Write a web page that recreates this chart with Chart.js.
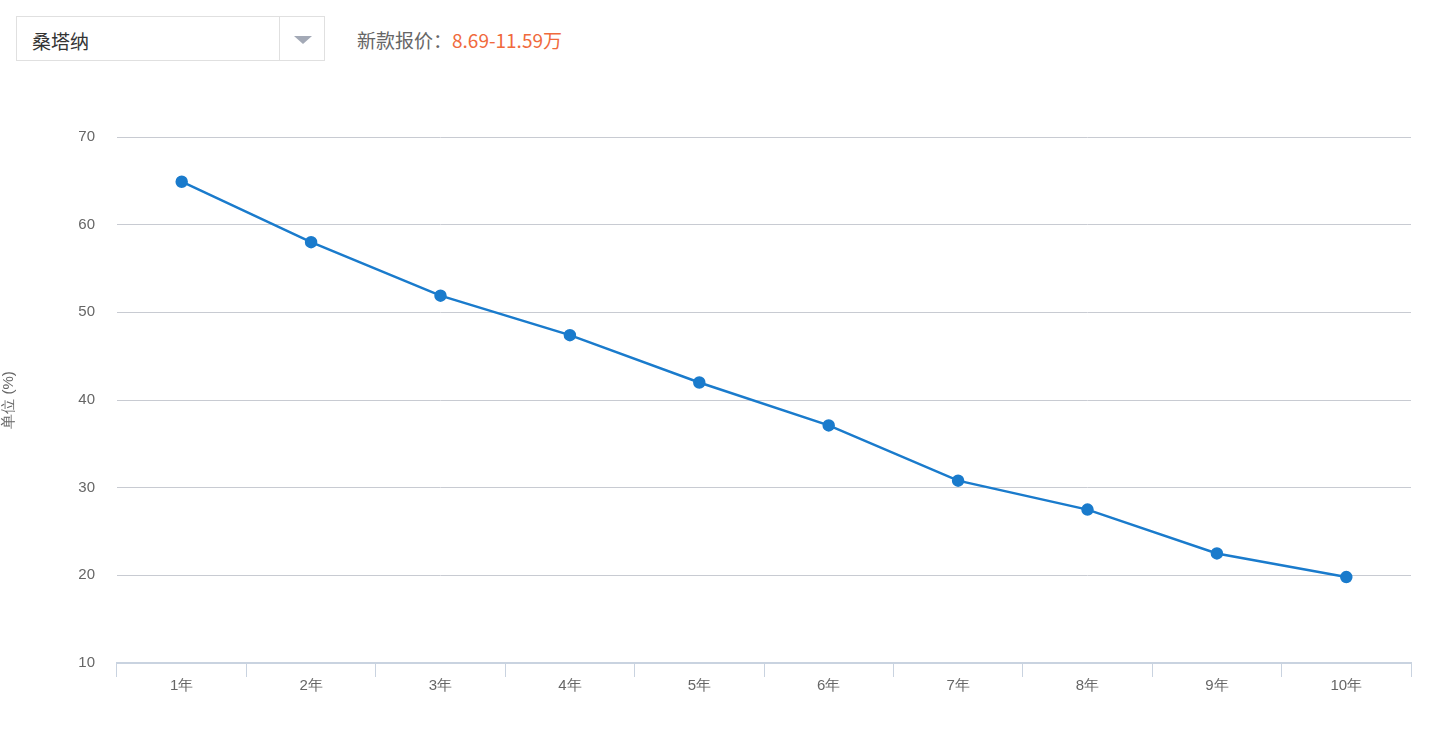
<!DOCTYPE html>
<html>
<head>
<meta charset="utf-8">
<script src="https://cdn.jsdelivr.net/npm/chart.js@4"></script>
<style>
  body { margin: 0; background: #fff; font-family: "Microsoft YaHei", "Noto Sans CJK SC", sans-serif; }
  .select { position: absolute; left: 16px; top: 16px; width: 309px; height: 45px; border: 1px solid #e0e0e0; box-sizing: border-box; }
  .select .name { position: absolute; left: 15px; top: 10px; font-size: 19px; color: #333; }
  .select .btn { position: absolute; left: 262px; top: 0; width: 46px; height: 43px; border-left: 1px solid #e0e0e0; }
  .select .btn::after { content: ""; position: absolute; left: 14px; top: 19px; border-left: 9px solid transparent; border-right: 9px solid transparent; border-top: 8px solid #a3a9b6; }
  .price { position: absolute; left: 357px; top: 26px; font-size: 19px; color: #666; }
  .price span { color: #f06a3c; }
  #wrap { position: absolute; left: 0; top: 0; width: 1449px; height: 743px; }
</style>
</head>
<body>
<div class="select"><div class="name">桑塔纳</div><div class="btn"></div></div>
<div class="price">新款报价：<span>8.69-11.59万</span></div>
<div id="wrap"><canvas id="myChart"></canvas></div>
<script>
let years = ['1年', '2年', '3年', '4年', '5年', '6年', '7年', '8年', '9年', '10年'];
let values = [64.9, 58, 51.9, 47.4, 42, 37.1, 30.8, 27.5, 22.5, 19.8]; // residual value %

const chart = document.getElementById('myChart').getContext('2d');
new Chart(chart, {
    type: 'line',
    data: {
        labels: years,
        datasets: [{
            data: values,
            borderColor: '#1a7bcc',
            backgroundColor: '#1a7bcc',
            borderWidth: 2.5,
            pointRadius: 5,
            tension: 0
        }]
    },
    options: {
        responsive: true,
        maintainAspectRatio: false,
        animation: false,
        layout: { padding: { top: 137, right: 38, left: 0, bottom: 0 } },
        plugins: { legend: { display: false }, tooltip: { enabled: false } },
        scales: {
            x: {
                offset: true,
                grid: { offset: true, drawOnChartArea: false, tickLength: 14, color: '#c9d3e0' },
                border: { color: '#c9d3e0', width: 2 },
                ticks: { color: '#666', font: { size: 15 }, padding: 0 },
                afterFit: s => { s.height = 80; }
            },
            y: {
                min: 10, max: 70,
                ticks: { stepSize: 10, color: '#666', font: { size: 15 }, padding: 22 },
                grid: { color: '#c8cbd2', drawTicks: false },
                border: { display: false },
                title: { display: true, text: '单位 (%)', color: '#666', font: { size: 15 }, padding: 0 },
                afterFit: s => { s.width = 117; }
            }
        }
    }
});
</script>
</body>
</html>
